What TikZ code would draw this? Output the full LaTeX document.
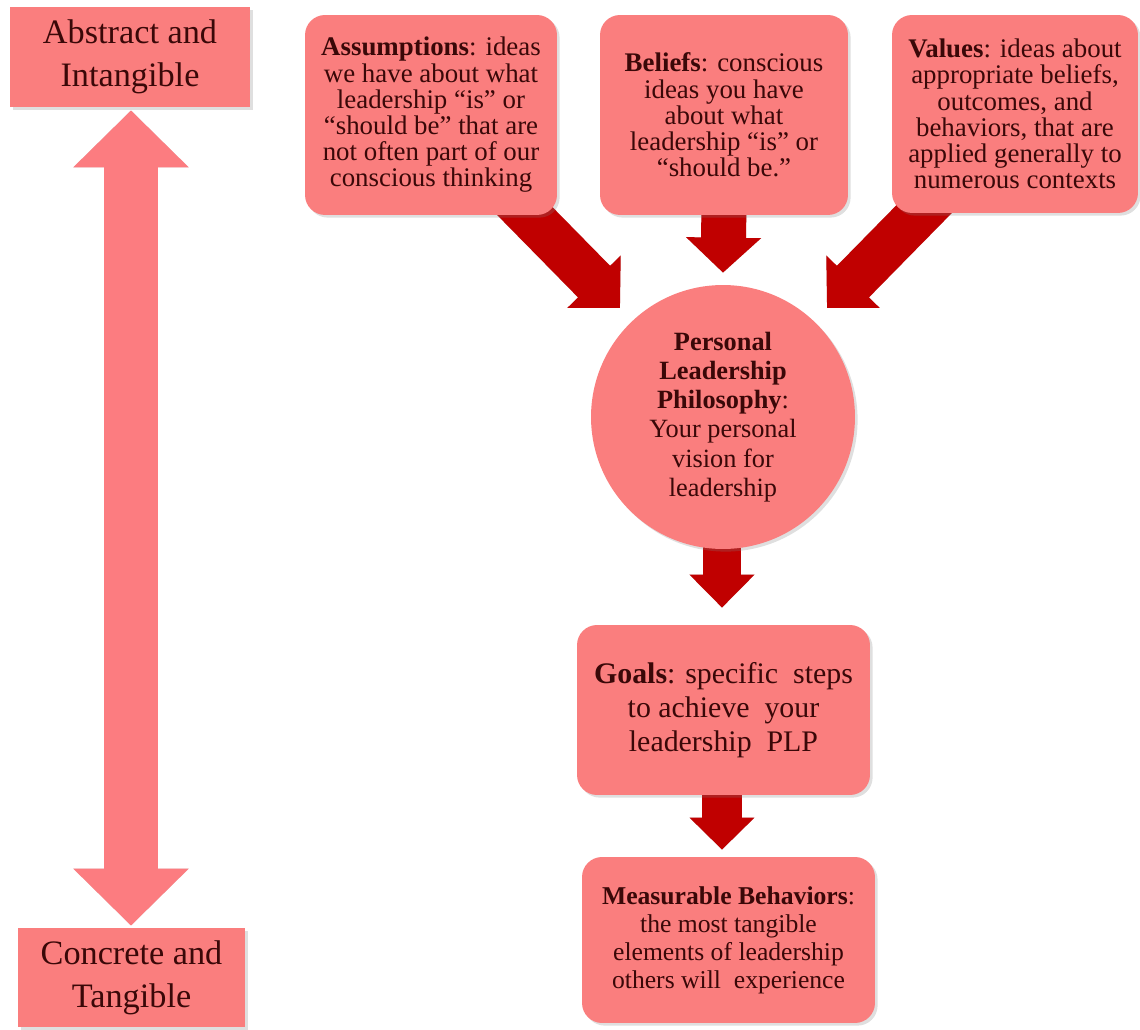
\documentclass[tikz,border=0pt]{standalone}
\usepackage{fontspec}
\setmainfont{Liberation Serif}
\usetikzlibrary{arrows.meta,shadows,calc}
\pgfdeclarelayer{bg}
\pgfsetlayers{bg,main}
\definecolor{boxfill}{RGB}{250,126,126}
\definecolor{barfill}{RGB}{252,124,128}
\definecolor{flow}{RGB}{192,0,0}
\definecolor{ink}{RGB}{58,8,8}

\begin{document}
\begin{tikzpicture}[x=0.02cm,y=-0.02cm,
  card/.style={fill=boxfill, text=ink, align=center, inner sep=0pt,
    drop shadow={shadow xshift=1.5pt, shadow yshift=-1.5pt, opacity=0.25}},
  roundcard/.style={card, rounded corners=0.4cm},
  toptext/.style={font=\fontsize{15.3}{14.9}\selectfont},
  flowarrow/.style n args={3}{draw=flow, line width=#1, -{Triangle[width=#2,length=#3]}},
  flowshade/.style n args={3}{draw=black, opacity=0.18, line width=#1,
    -{Triangle[width=#2,length=#3]}, xshift=1.5pt, yshift=-1.5pt},
]
\useasboundingbox (0,0) rectangle (1140,1030);

% scale ends
\node[card, minimum width=4.8cm, minimum height=2cm,
  font=\fontsize{19.5}{24.4}\selectfont] (abs) at (130,57) {Abstract and\\ Intangible};
\node[card, minimum width=4.54cm, minimum height=1.98cm,
  font=\fontsize{19.5}{24.4}\selectfont] (conc) at (131.5,977.5) {Concrete and\\ Tangible};

% sources
\node[roundcard, toptext, minimum width=5.04cm, minimum height=4cm] (assume) at (431,115)
  {\textbf{Assumptions}: ideas\\ we have about what\\ leadership “is” or\\ “should be” that are\\ not often part of our\\ conscious thinking};
\node[roundcard, toptext, minimum width=4.96cm, minimum height=4cm] (belief) at (724,115)
  {\textbf{Beliefs}: conscious\\ ideas you have\\ about what\\ leadership “is” or\\ “should be.”};
\node[roundcard, toptext, minimum width=4.92cm, minimum height=3.96cm] (value) at (1015,114)
  {\textbf{Values}: ideas about\\ appropriate beliefs,\\ outcomes, and\\ behaviors, that are\\ applied generally to\\ numerous contexts};

% philosophy
\node[card, circle, minimum size=5.28cm, font=\fontsize{15}{16.6}\selectfont] (plp) at (723,417)
  {\textbf{Personal}\\ \textbf{Leadership}\\ \textbf{Philosophy}:\\ Your personal\\ vision for\\ leadership};

% goals and behaviours
\node[roundcard, minimum width=5.86cm, minimum height=3.4cm,
  font=\fontsize{17}{19.5}\selectfont] (goal) at (723.5,710)
  {\textbf{Goals}: specific\ \ steps\\ to achieve\ \ your\\ leadership\ \ PLP};
\node[roundcard, minimum width=5.86cm, minimum height=3.32cm,
  font=\fontsize{14.6}{16}\selectfont] (meas) at (728.5,940)
  {\textbf{Measurable Behaviors}:\\ the most tangible\\ elements of leadership\\ others will\ \ experience};

% arrow end points
\coordinate (a1) at ($(assume.center)+(78,80)$);
\coordinate (t1) at ($(plp.center)+(-103,-109)$);
\coordinate (a3) at ($(value.center)+(-77,81)$);
\coordinate (t3) at ($(plp.center)+(104,-109)$);
\coordinate (a2) at ($(belief.south)+(0,-10)$);
\coordinate (t2) at ($(plp.north)+(0,-12)$);
\coordinate (a4) at ($(plp.south)+(-1,-8)$);
\coordinate (t4) at ($(goal.north)+(-1.5,-17)$);
\coordinate (a5) at ($(goal.south)+(-1.5,-4)$);
\coordinate (t5) at ($(meas.north)+(-6.5,-7)$);
\coordinate (d1) at ($(abs.south)+(1,3)$);
\coordinate (d2) at ($(conc.north)+(-0.5,-2)$);

\begin{pgfonlayer}{bg}
  % abstract-to-concrete scale
  \draw[draw=black, opacity=0.15, line width=1.1cm, xshift=1.5pt, yshift=-1.5pt,
    {Triangle[width=2.24cm,length=1.14cm]}-{Triangle[width=2.24cm,length=1.14cm]}] (d1) -- (d2);
  \draw[draw=barfill, line width=1.1cm,
    {Triangle[width=2.24cm,length=1.14cm]}-{Triangle[width=2.24cm,length=1.14cm]}] (d1) -- (d2);

  % flow into and out of the philosophy
  \draw[flowshade={0.9cm}{1.45cm}{0.74cm}] (a1) -- (t1);
  \draw[flowshade={0.9cm}{1.45cm}{0.74cm}] (a3) -- (t3);
  \draw[flowshade={0.9cm}{1.46cm}{0.7cm}] (a2) -- (t2);
  \draw[flowshade={0.76cm}{1.26cm}{0.66cm}] (a4) -- (t4);
  \draw[flowshade={0.8cm}{1.26cm}{0.64cm}] (a5) -- (t5);
  \draw[flowarrow={0.9cm}{1.45cm}{0.74cm}] (a1) -- (t1);
  \draw[flowarrow={0.9cm}{1.45cm}{0.74cm}] (a3) -- (t3);
  \draw[flowarrow={0.9cm}{1.46cm}{0.7cm}] (a2) -- (t2);
  \draw[flowarrow={0.76cm}{1.26cm}{0.66cm}] (a4) -- (t4);
  \draw[flowarrow={0.8cm}{1.26cm}{0.64cm}] (a5) -- (t5);
\end{pgfonlayer}
\end{tikzpicture}
\end{document}
